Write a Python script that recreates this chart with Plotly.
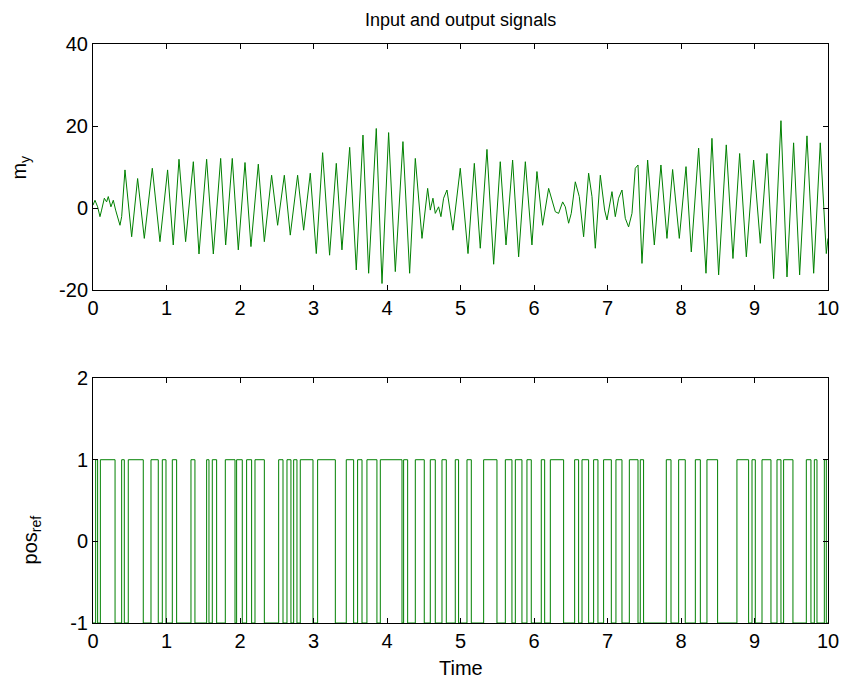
import plotly.graph_objects as go

# ---------------- data ----------------
# top panel: output signal m_y (time, value) read at peaks / troughs / kinks
t_my = [0.0, 0.027, 0.063, 0.095, 0.117, 0.154, 0.185, 0.208, 0.244, 0.276, 0.308, 0.335, 0.367, 0.39,
        0.435, 0.526, 0.607, 0.698, 0.807, 0.911, 1.015, 1.092, 1.17, 1.26, 1.365, 1.442, 1.546, 1.637,
        1.737, 1.805, 1.895, 1.977, 2.068, 2.149, 2.249, 2.331, 2.43, 2.512, 2.603, 2.684, 2.784, 2.866,
        2.956, 3.038, 3.124, 3.219, 3.31, 3.387, 3.492, 3.582, 3.673, 3.75, 3.854, 3.932, 4.022, 4.113,
        4.217, 4.308, 4.385, 4.476, 4.553, 4.589, 4.625, 4.657, 4.702, 4.734, 4.77, 4.816, 4.852, 4.897,
        4.997, 5.102, 5.188, 5.269, 5.36, 5.451, 5.541, 5.619, 5.709, 5.791, 5.882, 5.972, 6.04, 6.117,
        6.199, 6.245, 6.29, 6.335, 6.39, 6.426, 6.471, 6.507, 6.562, 6.616, 6.675, 6.743, 6.789, 6.834,
        6.902, 6.961, 6.993, 7.061, 7.106, 7.151, 7.197, 7.242, 7.287, 7.333, 7.378, 7.415, 7.455, 7.469,
        7.546, 7.637, 7.727, 7.809, 7.886, 7.977, 8.068, 8.14, 8.24, 8.34, 8.421, 8.512, 8.616, 8.707,
        8.798, 8.889, 8.988, 9.079, 9.17, 9.26, 9.36, 9.442, 9.532, 9.614, 9.714, 9.805, 9.895, 9.977, 10.0]
my = [0.7, 1.9, 0.3, -2.1, -0.5, 2.4, 1.5, 2.8, 0.3, 1.9, -0.5, -2.1, -4.2, -2.1,
      9.3, -7.0, 7.2, -7.4, 9.7, -8.2, 9.3, -9.0, 11.9, -8.2, 11.3, -11.2, 11.9, -11.2,
      12.1, -9.0, 12.1, -10.2, 11.1, -9.4, 10.7, -8.2, 8.0, -4.2, 8.0, -6.6, 8.0, -5.4,
      8.5, -11.1, 13.5, -11.5, 10.9, -10.2, 14.8, -15.1, 17.8, -15.9, 19.4, -18.4, 18.4, -15.5,
      16.2, -15.9, 12.1, -7.4, 4.8, -0.5, 2.4, -1.3, 0.3, -2.1, 2.4, 4.4, -0.5, -5.4,
      9.7, -11.1, 10.9, -9.8, 14.3, -13.7, 11.3, -9.0, 11.7, -11.9, 11.3, -9.0, 8.9, -4.2,
      4.8, 2.0, -0.9, -1.3, 1.5, 0.3, -3.7, -1.3, 6.4, 2.8, -7.0, 8.5, 2.8, -9.8,
      8.0, -0.5, -2.9, 4.0, -2.1, 2.4, 4.4, -2.5, -4.6, -1.3, 9.7, 10.5, -8.6, -13.5,
      11.7, -9.0, 10.5, -7.4, 9.4, -7.4, 10.1, -10.7, 14.6, -15.9, 17.0, -16.3, 15.4, -12.3,
      13.3, -11.9, 11.7, -8.6, 13.3, -17.2, 21.3, -16.8, 15.9, -16.3, 17.6, -15.9, 15.9, -11.1, -7.4]

# bottom panel: input signal pos_ref, intervals where it is +1 (otherwise -1)
ref_high_start = [0.036, 0.10, 0.39, 0.48, 0.789, 0.943, 1.079, 1.333, 1.546, 1.623, 1.80, 1.954, 2.09, 2.204,
                  2.526, 2.639, 2.73, 2.82, 3.056, 3.446, 3.60, 3.727, 3.909, 4.226, 4.385, 4.589, 4.748, 4.929,
                  5.088, 5.315, 5.61, 5.746, 5.904, 6.099, 6.222, 6.553, 6.653, 6.811, 6.947, 7.115, 7.297, 7.446,
                  7.80, 7.968, 8.195, 8.353, 8.761, 8.966, 9.102, 9.306, 9.396, 9.705, 9.814, 9.95]
ref_high_end = [0.063, 0.30, 0.426, 0.684, 0.888, 0.993, 1.138, 1.387, 1.578, 1.682, 1.932, 2.031, 2.158, 2.331,
                2.585, 2.693, 2.775, 2.993, 3.297, 3.546, 3.66, 3.863, 4.204, 4.281, 4.507, 4.657, 4.807, 4.974,
                5.147, 5.496, 5.70, 5.836, 5.963, 6.145, 6.403, 6.607, 6.743, 6.87, 7.052, 7.197, 7.415, 7.491,
                7.864, 8.058, 8.263, 8.498, 8.92, 9.011, 9.224, 9.36, 9.523, 9.768, 9.85, 9.977]
ref_low, ref_high = -1, 1

x_ticks = [0, 1, 2, 3, 4, 5, 6, 7, 8, 9, 10]
y1_ticks = [-20, 0, 20, 40]
y2_ticks = [-1, 0, 1, 2]

# build step series from the intervals
ref_t = [0.0]
ref_v = [ref_low]
for s, e in zip(ref_high_start, ref_high_end):
    ref_t += [s, e]
    ref_v += [ref_high, ref_low]
ref_t.append(10.0)
ref_v.append(ref_low)

GREEN = "#008000"
FONT = "Liberation Sans, Arial, sans-serif"
NARROW = "Liberation Sans Narrow, Arial Narrow, Liberation Sans, sans-serif"

fig = go.Figure()
fig.add_trace(go.Scatter(x=t_my, y=my, mode="lines", line=dict(color=GREEN, width=1),
                         xaxis="x", yaxis="y", hoverinfo="skip"))
fig.add_trace(go.Scatter(x=ref_t, y=ref_v, mode="lines", line=dict(color=GREEN, width=1, shape="hv"),
                         xaxis="x2", yaxis="y2", hoverinfo="skip"))

ax_common = dict(showgrid=False, zeroline=False, showline=True, linecolor="black", linewidth=1,
                 mirror="ticks", ticks="inside", ticklen=5, tickcolor="black", automargin=False,
                 ticklabeloverflow="allow",
                 tickfont=dict(family=FONT, size=20, color="black"))

fig.update_layout(
    width=842, height=682,
    margin=dict(l=93, r=14, t=44, b=59),
    paper_bgcolor="white", plot_bgcolor="white",
    showlegend=False,
    font=dict(family=FONT, color="black"),
    xaxis=dict(domain=[0, 1], anchor="y", range=[0, 10], tickvals=x_ticks,
               ticktext=[str(v) for v in x_ticks], **ax_common),
    yaxis=dict(domain=[0.575, 1], anchor="x", range=[-20, 40], tickvals=y1_ticks,
               ticktext=[str(v) for v in y1_ticks], **ax_common),
    xaxis2=dict(domain=[0, 1], anchor="y2", range=[0, 10], tickvals=x_ticks,
                ticktext=[str(v) for v in x_ticks], **ax_common),
    yaxis2=dict(domain=[0, 0.423], anchor="x2", range=[-1, 2], tickvals=y2_ticks,
                ticktext=[str(v) for v in y2_ticks], **ax_common),
    annotations=[
        dict(text="Input and output signals", xref="paper", yref="paper", x=0.5, y=1.0415,
             xanchor="center", yanchor="middle", showarrow=False,
             font=dict(family=NARROW, size=18, color="black")),
        dict(text="Time", xref="paper", yref="paper", x=0.5, y=-0.077,
             xanchor="center", yanchor="middle", showarrow=False,
             font=dict(family=FONT, size=20, color="black")),
        dict(text="m<sub>y</sub>", xref="paper", yref="paper", x=-0.099, y=0.787,
             xanchor="center", yanchor="middle", textangle=-90, showarrow=False,
             font=dict(family=FONT, size=20, color="black")),
        dict(text="pos<sub>ref</sub>", xref="paper", yref="paper", x=-0.084, y=0.143,
             xanchor="center", yanchor="middle", textangle=-90, showarrow=False,
             font=dict(family=FONT, size=20, color="black")),
    ],
)

# remove the default page margin so the 842x682 figure fills the window exactly
fig.write_html("out.html",
               config={"displayModeBar": False},
               post_script="document.body.style.margin='0';"
                           "document.documentElement.style.overflow='hidden';")
